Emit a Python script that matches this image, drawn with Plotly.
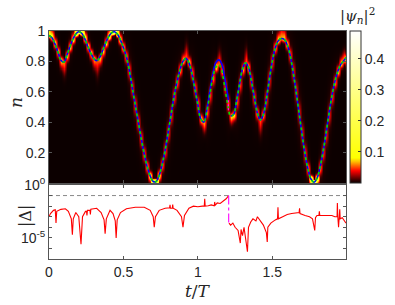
import numpy as np
import plotly.graph_objects as go

# ---------------- data ----------------
T = [round(0.02 * i, 2) for i in range(100)] + [1.995]
N_GREEN = [0.970, 0.955, 0.915, 0.862, 0.808, 0.795, 0.840, 0.895, 0.945, 0.980,
           0.995, 0.985, 0.950, 0.900, 0.855, 0.820, 0.805, 0.825, 0.870, 0.920,
           0.962, 0.988, 0.995, 0.978, 0.940, 0.890, 0.830, 0.740, 0.625, 0.510,
           0.400, 0.290, 0.190, 0.105, 0.045, 0.010, 0.010, 0.050, 0.120, 0.215,
           0.330, 0.450, 0.570, 0.665, 0.745, 0.800, 0.820, 0.790, 0.720, 0.620,
           0.515, 0.420, 0.400, 0.470, 0.580, 0.690, 0.760, 0.780, 0.740, 0.635,
           0.520, 0.440, 0.450, 0.540, 0.650, 0.750, 0.790, 0.760, 0.670, 0.560,
           0.460, 0.415, 0.450, 0.550, 0.680, 0.800, 0.890, 0.935, 0.950, 0.945,
           0.910, 0.840, 0.730, 0.600, 0.460, 0.320, 0.190, 0.090, 0.025, 0.005,
           0.030, 0.100, 0.200, 0.320, 0.450, 0.570, 0.665, 0.735, 0.780, 0.805,
           0.825]

BLUE_T_SEG = [1.06, 1.08, 1.10, 1.12, 1.14, 1.16, 1.18, 1.20, 1.205]
BLUE_N_SEG = [0.480, 0.600, 0.715, 0.790, 0.810, 0.785, 0.690, 0.580, 0.545]

JUMP_T = [1.205, 1.205]
JUMP_N = [0.545, 0.465]

DELTA_T = [0.000, 0.010, 0.030, 0.042, 0.047, 0.052, 0.080, 0.110, 0.130, 0.150,
           0.157, 0.163, 0.180, 0.200, 0.215, 0.225, 0.245, 0.252, 0.255, 0.258,
           0.275, 0.278, 0.281, 0.320, 0.350, 0.370, 0.377, 0.385, 0.410, 0.430,
           0.445, 0.451, 0.458, 0.480, 0.520, 0.580, 0.640, 0.680, 0.700, 0.707,
           0.715, 0.740, 0.780, 0.810, 0.813, 0.816, 0.828, 0.831, 0.834, 0.860,
           0.890, 0.900, 0.910, 0.940, 0.970, 1.000, 1.030, 1.043, 1.046, 1.049,
           1.070, 1.090, 1.110, 1.113, 1.116, 1.130, 1.150, 1.170, 1.190, 1.207,
           None,
           1.209, 1.220, 1.235, 1.250, 1.270, 1.285, 1.290, 1.300, 1.310, 1.320,
           1.333, 1.340, 1.355, 1.370, 1.390, 1.400, 1.420, 1.440, 1.460, 1.466,
           1.470, 1.490, 1.520, 1.535, 1.538, 1.541, 1.570, 1.600, 1.630, 1.660,
           1.680, 1.683, 1.686, 1.720, 1.750, 1.770, 1.785, 1.790, 1.800, 1.813,
           1.816, 1.819, 1.850, 1.880, 1.900, 1.920, 1.935, 1.937, 1.940, 1.945,
           1.950, 1.953, 1.956, 1.970, 1.995]
DELTA_VAL = [1.0e-3, 2.0e-3, 4.0e-3, 4.5e-3, 2.5e-4, 3.2e-3, 5.0e-3, 5.6e-3, 3.2e-3, 6.3e-4,
             2.0e-5, 6.3e-4, 2.5e-3, 1.0e-3, 2.5e-6, 1.0e-3, 3.2e-3, 3.2e-3, 1.3e-3, 4.0e-3,
             4.0e-3, 1.6e-3, 5.0e-3, 6.3e-3, 2.5e-3, 5.0e-4, 2.5e-5, 6.3e-4, 4.0e-3, 2.0e-3,
             4.0e-4, 1.0e-5, 5.0e-4, 2.5e-3, 5.6e-3, 7.9e-3, 7.9e-3, 4.0e-3, 1.0e-3, 1.0e-4,
             1.0e-3, 4.0e-3, 6.3e-3, 7.1e-3, 1.3e-2, 6.3e-3, 6.3e-3, 1.4e-2, 6.3e-3, 4.0e-3,
             1.0e-3, 1.0e-4, 1.3e-3, 6.3e-3, 1.0e-2, 8.9e-3, 1.0e-2, 1.0e-2, 5.0e-2, 1.0e-2,
             1.1e-2, 1.3e-2, 1.1e-2, 2.5e-2, 1.2e-2, 2.0e-2, 1.8e-2, 2.8e-2, 5.0e-2, 1.0e-1,
             None,
             2.5e-4, 1.6e-4, 2.5e-4, 1.0e-4, 5.0e-5, 3.2e-6, 6.3e-5, 1.6e-5, 1.0e-4, 1.0e-5,
             5.0e-7, 1.0e-4, 3.2e-4, 6.3e-4, 4.0e-4, 1.0e-3, 4.0e-4, 1.6e-4, 3.2e-5, 4.0e-6,
             1.0e-4, 2.5e-4, 5.0e-4, 6.3e-4, 7.9e-3, 6.3e-4, 1.0e-3, 1.6e-3, 2.0e-3, 2.2e-3,
             2.5e-3, 6.3e-3, 2.0e-3, 1.3e-3, 1.0e-3, 6.3e-4, 5.0e-5, 7.9e-4, 1.3e-3, 1.3e-3,
             3.2e-3, 1.3e-3, 1.4e-3, 1.3e-3, 1.3e-3, 1.0e-3, 1.0e-3, 2.0e-2, 1.0e-3, 1.0e-4,
             1.0e-3, 5.0e-3, 6.3e-4, 7.9e-4, 2.5e-4]

DROP_T = [1.207, 1.207]
DROP_VAL = [1.0e-1, 2.5e-4]
THRESHOLD = 1.0e-1

TOP_TICKS = [0.2, 0.4, 0.6, 0.8, 1.0]
TOP_TICKTEXT = ["0.2", "0.4", "0.6", "0.8", "1"]
X_TICKS = [0, 0.5, 1, 1.5]
X_TICKTEXT = ["0", "0.5", "1", "1.5"]
CB_TICKS = [0.1, 0.2, 0.3, 0.4]

# ---------------- derived density |psi_n|^2 around the trajectory ----------------
t = np.array(T)
c = np.array(N_GREEN)
ngrid = np.linspace(0, 1, 301)
slope = np.gradient(c, t)
curv = np.gradient(slope, t)
sig0 = 0.011
sig_v = np.sqrt(sig0 ** 2 + (0.0068 * slope) ** 2)
turn = np.exp(-(slope / 1.6) ** 2)
Z = np.zeros((len(ngrid), len(t)))
for j in range(len(t)):
    d = -1.0 if curv[j] > 0 else 1.0
    dist = (1 - c[j]) if d > 0 else c[j]
    s_in = sig_v[j] * (0.55 + 0.45 * min(1.0, dist / 0.05))
    s_out = s_in + min(0.05 * turn[j], 1.5 * dist)
    amp = 0.0016 / (0.5 * (s_in + s_out)) * (1 + 2.0 * np.exp(-dist / 0.025))
    diff = ngrid - c[j]
    outer = diff * d > 0
    s = np.where(outer, s_out, s_in)
    col = amp * np.exp(-diff ** 2 / (2 * s ** 2))
    col += 0.006 * np.exp(-diff ** 2 / (2 * (3.0 * sig_v[j]) ** 2))
    Z[:, j] = col

colorscale = [
    [0.0, "rgb(12,0,0)"],
    [0.015, "rgb(45,0,0)"],
    [0.08, "rgb(255,0,0)"],
    [0.115, "rgb(255,110,0)"],
    [0.14, "rgb(255,190,0)"],
    [0.165, "rgb(255,255,0)"],
    [1.0, "rgb(255,255,255)"],
]

W, H = 395, 305
L, R, TOP, BOT = 49, 346, 31, 259
PW, PH = R - L, BOT - TOP
fx = lambda px: (px - L) / PW
fy = lambda py: (BOT - py) / PH

FONT = "Liberation Sans"
SERIF = "DejaVu Serif"
TXT = "#262626"

fig = go.Figure()
fig.add_trace(go.Heatmap(
    x=T, y=ngrid, z=Z, zmin=0, zmax=0.49, colorscale=colorscale, zsmooth="best",
    xaxis="x", yaxis="y", hoverinfo="skip",
    colorbar=dict(x=fx(350), xanchor="left", y=fy(183), yanchor="bottom",
                  len=152 / PH, lenmode="fraction", thickness=11, thicknessmode="pixels",
                  xpad=0, ypad=0, outlinewidth=1, outlinecolor="#333",
                  tickvals=CB_TICKS, ticks="inside", ticklen=3, tickcolor="#333",
                  tickfont=dict(family=FONT, size=14, color=TXT)),
))
fig.add_trace(go.Scatter(
    x=T[:53] + BLUE_T_SEG + [None] + T[61:],
    y=N_GREEN[:53] + BLUE_N_SEG + [None] + N_GREEN[61:],
    mode="lines", line=dict(color="#0000ff", width=1.6, shape="spline"),
    xaxis="x", yaxis="y", showlegend=False, connectgaps=False))
fig.add_trace(go.Scatter(
    x=T, y=N_GREEN, mode="lines",
    line=dict(color="#00dd00", width=1.6, dash="3px,3px", shape="spline"),
    xaxis="x", yaxis="y", showlegend=False))
fig.add_trace(go.Scatter(
    x=JUMP_T, y=JUMP_N, mode="lines", line=dict(color="#ff00ff", width=1.2, dash="2px,2px"),
    xaxis="x", yaxis="y", showlegend=False))

# bottom panel
fig.add_trace(go.Scatter(
    x=[0, 1.995], y=[THRESHOLD, THRESHOLD], mode="lines",
    line=dict(color="#888888", width=1, dash="4px,3px"),
    xaxis="x2", yaxis="y2", showlegend=False))
fig.add_trace(go.Scatter(
    x=DELTA_T, y=DELTA_VAL, mode="lines", line=dict(color="#ff0000", width=1.1),
    xaxis="x2", yaxis="y2", showlegend=False, connectgaps=False))
fig.add_trace(go.Scatter(
    x=DROP_T, y=DROP_VAL, mode="lines", line=dict(color="#ff00ff", width=1.1, dash="dashdot"),
    xaxis="x2", yaxis="y2", showlegend=False))

axis_common = dict(showline=True, linecolor="#555", linewidth=1, mirror="ticks",
                   ticks="inside", ticklen=3, tickcolor="#555", showgrid=False,
                   zeroline=False, automargin=False,
                   tickfont=dict(family=FONT, size=14, color=TXT))

ann = lambda text, px, py, size, angle=0: dict(
    text=text, x=fx(px), y=fy(py), xref="paper", yref="paper", showarrow=False,
    xanchor="center", yanchor="middle", textangle=angle,
    font=dict(family=SERIF, size=size, color=TXT))

fig.update_layout(
    width=W, height=H, margin=dict(l=L, r=W - R, t=TOP, b=H - BOT, autoexpand=False),
    paper_bgcolor="white", plot_bgcolor="white", showlegend=False,
    xaxis=dict(domain=[0, 1], range=[0, 1.995], anchor="y",
               tickvals=X_TICKS, showticklabels=False, **axis_common),
    yaxis=dict(domain=[fy(183), 1], range=[0, 1], anchor="x",
               tickvals=TOP_TICKS, ticktext=TOP_TICKTEXT, **axis_common),
    xaxis2=dict(domain=[0, 1], range=[0, 1.995], anchor="y2",
                tickvals=X_TICKS, ticktext=X_TICKTEXT, **axis_common),
    yaxis2=dict(domain=[0, fy(185)], type="log", range=[-7, 0], anchor="x2",
                tickvals=[1, 1e-1, 1e-2, 1e-3, 1e-4, 1e-5, 1e-6, 1e-7],
                ticktext=["10<sup>0</sup>", "", "", "", "", "10<sup>-5</sup>", "", ""],
                **axis_common),
    annotations=[
        ann("<i>n</i>", 16, 103, 17, -90),
        ann("|Δ|", 25, 216, 16, -90),
        ann("<i>t</i>/<i>T</i>", 198, 291, 17),
        ann("|<i>ψ</i><sub><i>n</i></sub>|<sup>2</sup>", 357, 15, 15),
    ],
)

fig.write_html("out.html", config={"displayModeBar": False},
               post_script="document.body.style.margin='0';document.body.style.overflow='hidden';")
